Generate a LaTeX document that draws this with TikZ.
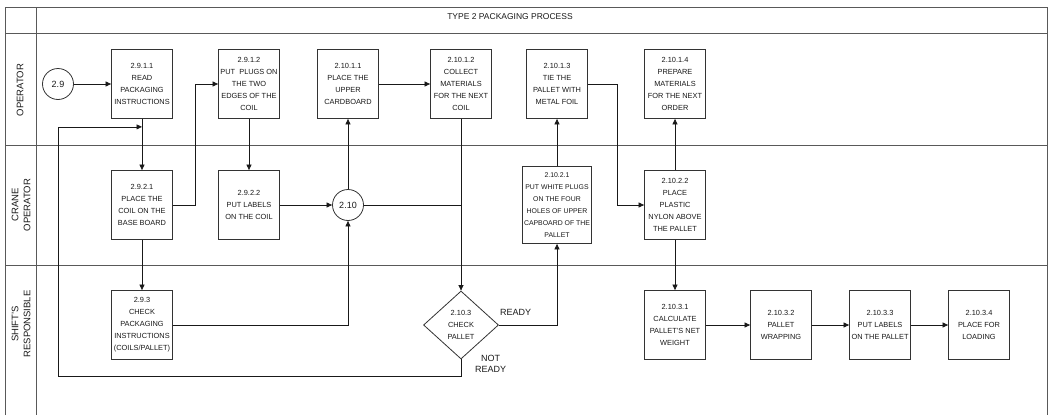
\documentclass[tikz,border=0pt]{standalone}
\usepackage{fontspec}
\setmainfont{Liberation Sans}
\usepackage{tikz}
\usetikzlibrary{arrows.meta,positioning,shapes.geometric}

\begin{document}
\begin{tikzpicture}[
  x=1pt,y=-1pt,
  >={Triangle[length=5.5pt,width=5pt]},
  every node/.style={font=\fontsize{7.4}{12}\selectfont,text=black!90},
  lane/.style={draw=black!65,line width=0.9pt},
  tnode/.style={draw=black!80,line width=0.8pt,minimum width=61pt,
                minimum height=69pt,inner sep=1pt,align=center},
  cnode/.style={draw=black!80,line width=0.8pt,circle,minimum size=31pt,
                inner sep=0pt,font=\fontsize{9}{11}\selectfont},
  qnode/.style={draw=black!80,line width=0.8pt,diamond,minimum width=75pt,
                minimum height=68pt,inner sep=0pt,align=center},
  lbl/.style={font=\fontsize{9}{11}\selectfont,align=center,inner sep=0pt},
  lname/.style={rotate=90,align=center,font=\fontsize{9.5}{12}\selectfont},
  flow/.style={draw=black!90,line width=0.7pt}
]
\useasboundingbox (0,0) rectangle (1049,415);

% ---- Pool and lanes ----
\draw[lane] (5,415) -- (5,7) -- (1047,7) -- (1047,415);
\draw[lane] (36,7) -- (36,415);
\foreach \y in {33,145,265} \draw[lane] (5,\y) -- (1047,\y);

\node (title) at (510,17) {\fontsize{8.5}{10}\selectfont TYPE 2 PACKAGING PROCESS};
\node[lname] (lop) at (20,90)  {OPERATOR};
\node[lname] (lcr) at (21,205) {CRANE\\OPERATOR};
\node[lname] (lsh) at (21,324) {SHIFT'S\\RESPONSIBLE};

% ---- Operator lane ----
\node[cnode] (c29)    at (58,84)  {2.9};
\node[tnode] (t2911)  at (142,84) {2.9.1.1\\READ\\PACKAGING\\INSTRUCTIONS};
\node[tnode] (t2912)  at (249,84) {2.9.1.2\\PUT\ \ PLUGS ON\\THE TWO\\EDGES OF THE\\COIL};
\node[tnode] (t21011) at (348,84) {2.10.1.1\\PLACE THE\\UPPER\\CARDBOARD};
\node[tnode] (t21012) at (461,84) {2.10.1.2\\COLLECT\\MATERIALS\\FOR THE NEXT\\COIL};
\node[tnode] (t21013) at (557,84) {2.10.1.3\\TIE THE\\PALLET WITH\\METAL FOIL};
\node[tnode] (t21014) at (675,84) {2.10.1.4\\PREPARE\\MATERIALS\\FOR THE NEXT\\ORDER};

% ---- Crane operator lane ----
\node[tnode] (t2921)  at (142,205) {2.9.2.1\\PLACE THE\\COIL ON THE\\BASE BOARD};
\node[tnode] (t2922)  at (249,205) {2.9.2.2\\PUT LABELS\\ON THE COIL};
\node[cnode] (c210)   at (348,205) {2.10};
\node[tnode,minimum width=69pt,minimum height=77pt,
      font=\fontsize{6.9}{12}\selectfont] (t21021) at (557,205)
      {2.10.2.1\\PUT WHITE PLUGS\\ON THE FOUR\\HOLES OF UPPER\\CAPBOARD OF THE\\PALLET};
\node[tnode] (t21022) at (675,205) {2.10.2.2\\PLACE\\PLASTIC\\NYLON ABOVE\\THE PALLET};

% ---- Shift's responsible lane ----
\node[tnode] (t293)   at (142,325) {2.9.3\\CHECK\\PACKAGING\\INSTRUCTIONS\\(COILS/PALLET)};
\node[qnode] (d2103)  at (461,325) {2.10.3\\CHECK\\PALLET};
\node[tnode] (t21031) at (675,325) {2.10.3.1\\CALCULATE\\PALLET'S NET\\WEIGHT};
\node[tnode] (t21032) at (781,325) {2.10.3.2\\PALLET\\WRAPPING};
\node[tnode] (t21033) at (880,325) {2.10.3.3\\PUT LABELS\\ON THE PALLET};
\node[tnode] (t21034) at (979,325) {2.10.3.4\\PLACE FOR\\LOADING};

% decision labels
\node[lbl,above right=9pt and 1pt of d2103.east] (ready) {READY};
\node[lbl,anchor=north west] (notready) at ([xshift=14pt,yshift=4pt]d2103.south) {NOT\\READY};

% ---- Connectors ----
\coordinate (back) at ([yshift=-8pt]t2911.south);
\draw[flow,->] (c29) -- (t2911);
\draw[flow,->] (t2911) -- (t2921);
\draw[flow,->] (t2921.east) -- ++(22,0) |- (t2912.west);
\draw[flow,->] (t2912) -- (t2922);
\draw[flow,->] (t2922) -- (c210);
\draw[flow,->] (t2921) -- (t293);
\draw[flow,->] (t293.east) -| (c210.south);
\draw[flow,->] (c210) -- (t21011);
\draw[flow,->] (t21011) -- (t21012);
\draw[flow,->] (t21012) -- (d2103);
\draw[flow] (c210.east) -- (c210.east -| d2103.north);
\draw[flow,->] (d2103.east) -| (t21021.south);
\draw[flow,->] (d2103.south) -- ++(0,17) -| ([xshift=-84pt]back) -- (back);
\draw[flow,->] (t21021) -- (t21013);
\draw[flow,->] (t21013.east) -- ++(29,0) |- (t21022.west);
\draw[flow,->] (t21022) -- (t21014);
\draw[flow,->] (t21022) -- (t21031);
\draw[flow,->] (t21031) -- (t21032);
\draw[flow,->] (t21032) -- (t21033);
\draw[flow,->] (t21033) -- (t21034);

\end{tikzpicture}
\end{document}
